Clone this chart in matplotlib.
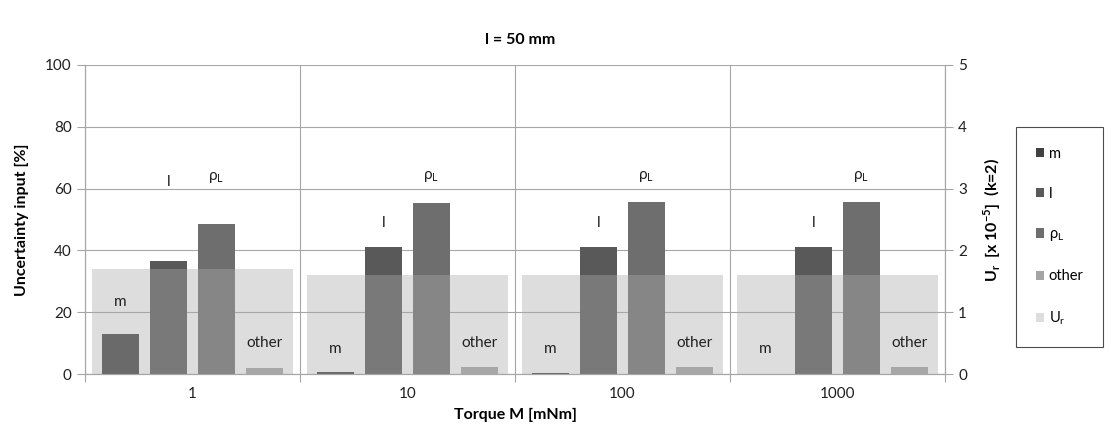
import matplotlib
matplotlib.use("Agg")
import matplotlib.pyplot as plt
from matplotlib.patches import Patch
import numpy as np

plt.rcParams['font.family'] = ['Lato', 'DejaVu Sans']

groups = ["1", "10", "100", "1000"]
series = ["m", "l", "ρ$_\\mathregular{L}$", "other"]
m_vals = [13.0, 0.7, 0.2, 0.1]
l_vals = [36.5, 41.0, 41.2, 41.2]
rho_vals = [48.5, 55.5, 55.7, 55.7]
other_vals = [2.0, 2.2, 2.2, 2.2]
ur_vals = [1.70, 1.60, 1.60, 1.60]

# label heights (data units, left axis)
m_lab = [23.3, 8.0, 8.0, 8.0]
l_lab = [62.0, 49.0, 49.0, 49.0]
rho_lab = [63.5, 64.0, 64.0, 64.0]
other_lab = [10.0, 10.0, 10.0, 10.0]

colors = ["#404040", "#595959", "#6e6e6e", "#a5a5a5"]
ur_color = "#ababab"
ur_alpha = 0.40
grid_c = "#a6a6a6"

fig = plt.figure(figsize=(11.11, 4.43), dpi=100)
ax = fig.add_axes([85/1111, 69/443, 860/1111, 309/443])
ax2 = ax.twinx()

x = np.arange(len(groups))
step = 0.223
w = 0.172
vals = [m_vals, l_vals, rho_vals, other_vals]
labs = [m_lab, l_lab, rho_lab, other_lab]
offs = [-1.5, -0.5, 0.5, 1.5]
for v, c, o in zip(vals, colors, offs):
    ax.bar(x + o*step, v, width=w, color=c, zorder=3)

ax2.bar(x, ur_vals, width=0.935, color=ur_color, alpha=ur_alpha, zorder=1, linewidth=0)

for s, lab, o in zip(series, labs, offs):
    for i in range(len(groups)):
        ax2.text(x[i] + o*step, lab[i], s, transform=ax.transData,
                 ha="center", va="center", fontsize=11, color="#202020", zorder=5)

ax.set_xlim(-0.5, len(groups) - 0.5)
ax.set_ylim(0, 100)
ax2.set_ylim(0, 5)
ax.set_yticks(np.arange(0, 101, 20))
ax2.set_yticks(np.arange(0, 6, 1))

ax.set_xticks(np.arange(-0.5, len(groups), 1))
ax.set_xticklabels([])
ax.set_xticks(x, minor=True)
ax.set_xticklabels(groups, minor=True)
ax.tick_params(axis="x", which="major", length=6, color=grid_c, width=0.8)
ax.tick_params(axis="x", which="minor", length=0, labelsize=11, pad=9, labelcolor="#202020")
ax.tick_params(axis="y", length=6, color=grid_c, width=0.8, labelsize=11, labelcolor="#202020")
ax2.tick_params(axis="y", length=6, color=grid_c, width=0.8, labelsize=11, labelcolor="#202020")

ax.grid(True, axis="both", which="major", color=grid_c, linewidth=0.8, zorder=0)
ax.set_axisbelow(True)
for a in (ax, ax2):
    for sp in a.spines.values():
        sp.set_color(grid_c)
        sp.set_linewidth(0.8)
    a.spines["top"].set_visible(False)

ax.set_ylabel("Uncertainty input [%]", fontsize=11.5, fontweight="bold", labelpad=12)
ax2.set_ylabel("U$_\\mathregular{r}$  [x 10$^\\mathregular{-5}$]  (k=2)", fontsize=11.5, fontweight="bold", labelpad=10)
ax.set_xlabel("Torque M [mNm]", fontsize=11.5, fontweight="bold", labelpad=5)
fig.text(0.5 * (85 + 945) / 1111 + 0.005, 1 - 40/443, "l = 50 mm", ha="center", va="center",
         fontsize=11.5, fontweight="bold")

handles = [Patch(facecolor=c) for c in colors] + [Patch(facecolor=ur_color, alpha=ur_alpha)]
labels = series + ["U$_\\mathregular{r}$"]
leg = fig.legend(handles, labels, loc="upper left", bbox_to_anchor=(1016/1111, 1 - 127/443),
                 frameon=True, fancybox=False, edgecolor="#202020", fontsize=10.5,
                 handlelength=0.6, handleheight=0.6, handletextpad=0.3,
                 labelspacing=1.8, borderpad=1.35, borderaxespad=0)
leg.get_frame().set_linewidth(0.8)

fig.savefig("out.png", dpi=100)
